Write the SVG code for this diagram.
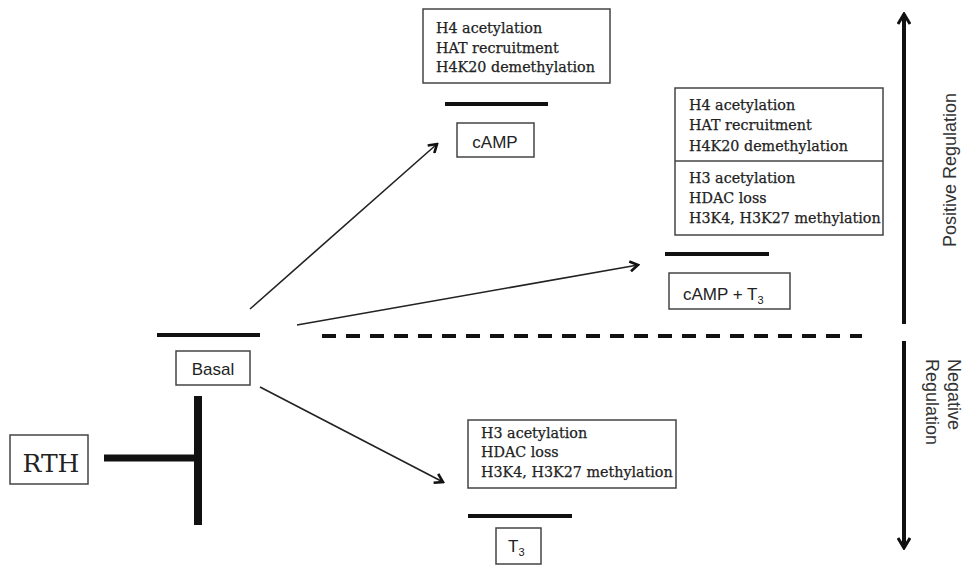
<svg xmlns="http://www.w3.org/2000/svg" width="965" height="565" viewBox="0 0 965 565">
<style>
  .box { fill: #fff; stroke: #444; stroke-width: 1.5; }
  .bar { stroke: #111; stroke-width: 4; stroke-linecap: butt; }
  .serif { font-family: "DejaVu Serif", "Liberation Serif", serif; font-size: 14.3px; fill: #222; stroke: #222; stroke-width: 0.25; }
  .sans { font-family: "Liberation Sans", Arial, sans-serif; font-size: 17px; fill: #222; }
  .axis { font-family: "Liberation Sans", Arial, sans-serif; font-size: 18px; fill: #333; }
  .arrow { stroke: #222; stroke-width: 1.6; fill: none; marker-end: url(#head); }
  .axisline { stroke: #111; stroke-width: 4; fill: none; }
</style>
<defs>
  <marker id="head" viewBox="0 0 12 12" refX="10" refY="6" markerWidth="12" markerHeight="12" markerUnits="userSpaceOnUse" orient="auto">
    <path d="M2,1 L10,6 L2,11" fill="none" stroke="#111" stroke-width="2.6" stroke-linejoin="miter"/>
  </marker>
  <marker id="bighead" viewBox="0 0 14 14" refX="12" refY="7" markerWidth="14" markerHeight="14" markerUnits="userSpaceOnUse" orient="auto">
    <path d="M2,1 L12,7 L2,13" fill="none" stroke="#111" stroke-width="3" stroke-linejoin="miter"/>
  </marker>
</defs>
<rect width="965" height="565" fill="#fff"/>

<g id="camp-effects">
  <rect class="box" x="423" y="9" width="187" height="74"/>
  <text class="serif" x="436" y="33">H4 acetylation</text>
  <text class="serif" x="436" y="53">HAT recruitment</text>
  <text class="serif" x="436" y="72">H4K20 demethylation</text>
</g>
<g id="camp">
  <line class="bar" x1="445" y1="104" x2="548" y2="104"/>
  <rect class="box" x="457" y="123" width="77" height="34"/>
  <text class="sans" x="495" y="148" text-anchor="middle">cAMP</text>
</g>
<g id="camp-t3-effects">
  <rect class="box" x="675" y="88" width="208" height="147"/>
  <line x1="675" y1="161" x2="883" y2="161" stroke="#444" stroke-width="1.5"/>
  <text class="serif" x="689" y="110">H4 acetylation</text>
  <text class="serif" x="689" y="130">HAT recruitment</text>
  <text class="serif" x="689" y="151">H4K20 demethylation</text>
  <text class="serif" x="689" y="183">H3 acetylation</text>
  <text class="serif" x="689" y="203">HDAC loss</text>
  <text class="serif" x="689" y="223">H3K4, H3K27 methylation</text>
</g>
<g id="camp-t3">
  <line class="bar" x1="665" y1="254" x2="769" y2="254"/>
  <rect class="box" x="669" y="273" width="121" height="36"/>
  <text class="sans" x="683" y="300">cAMP + T<tspan font-size="11" dy="4">3</tspan></text>
</g>
<g id="basal">
  <line class="bar" x1="157" y1="335" x2="260" y2="335"/>
  <rect class="box" x="176" y="351" width="74" height="34"/>
  <text class="sans" x="213" y="375" text-anchor="middle">Basal</text>
</g>
<g id="t3-effects">
  <rect class="box" x="468" y="420" width="208" height="68"/>
  <text class="serif" x="481" y="438">H3 acetylation</text>
  <text class="serif" x="481" y="457">HDAC loss</text>
  <text class="serif" x="481" y="477">H3K4, H3K27 methylation</text>
</g>
<g id="t3">
  <line class="bar" x1="468" y1="516" x2="572" y2="516"/>
  <rect class="box" x="496" y="528" width="45" height="36"/>
  <text class="sans" x="508" y="552">T<tspan font-size="11" dy="4">3</tspan></text>
</g>
<g id="rth">
  <rect class="box" x="10" y="435" width="78" height="49"/>
  <text x="51" y="472" text-anchor="middle" font-family="DejaVu Serif, Liberation Serif, serif" font-size="25" fill="#222">RTH</text>
</g>
<g id="regulation-axis">
  <line class="axisline" x1="904" y1="324" x2="904" y2="14" marker-end="url(#bighead)"/>
  <line class="axisline" x1="904" y1="341" x2="904" y2="548" marker-end="url(#bighead)"/>
  <text class="axis" transform="translate(956,247) rotate(-90)">Positive Regulation</text>
  <text class="axis" transform="translate(948,359) rotate(90)">Negative</text>
  <text class="axis" transform="translate(926,359) rotate(90)">Regulation</text>
</g>
<g id="connectors">
  <line class="arrow" x1="250" y1="309" x2="437" y2="144"/>
  <line class="arrow" x1="297" y1="325" x2="638" y2="265"/>
  <line class="arrow" x1="260" y1="387" x2="443" y2="482"/>
  <line x1="104" y1="458" x2="197" y2="458" stroke="#111" stroke-width="7"/>
  <line x1="198" y1="396" x2="198" y2="525" stroke="#111" stroke-width="8"/>
  <line x1="322" y1="336" x2="862" y2="336" stroke="#111" stroke-width="4" stroke-dasharray="14 10"/>
</g>
</svg>
